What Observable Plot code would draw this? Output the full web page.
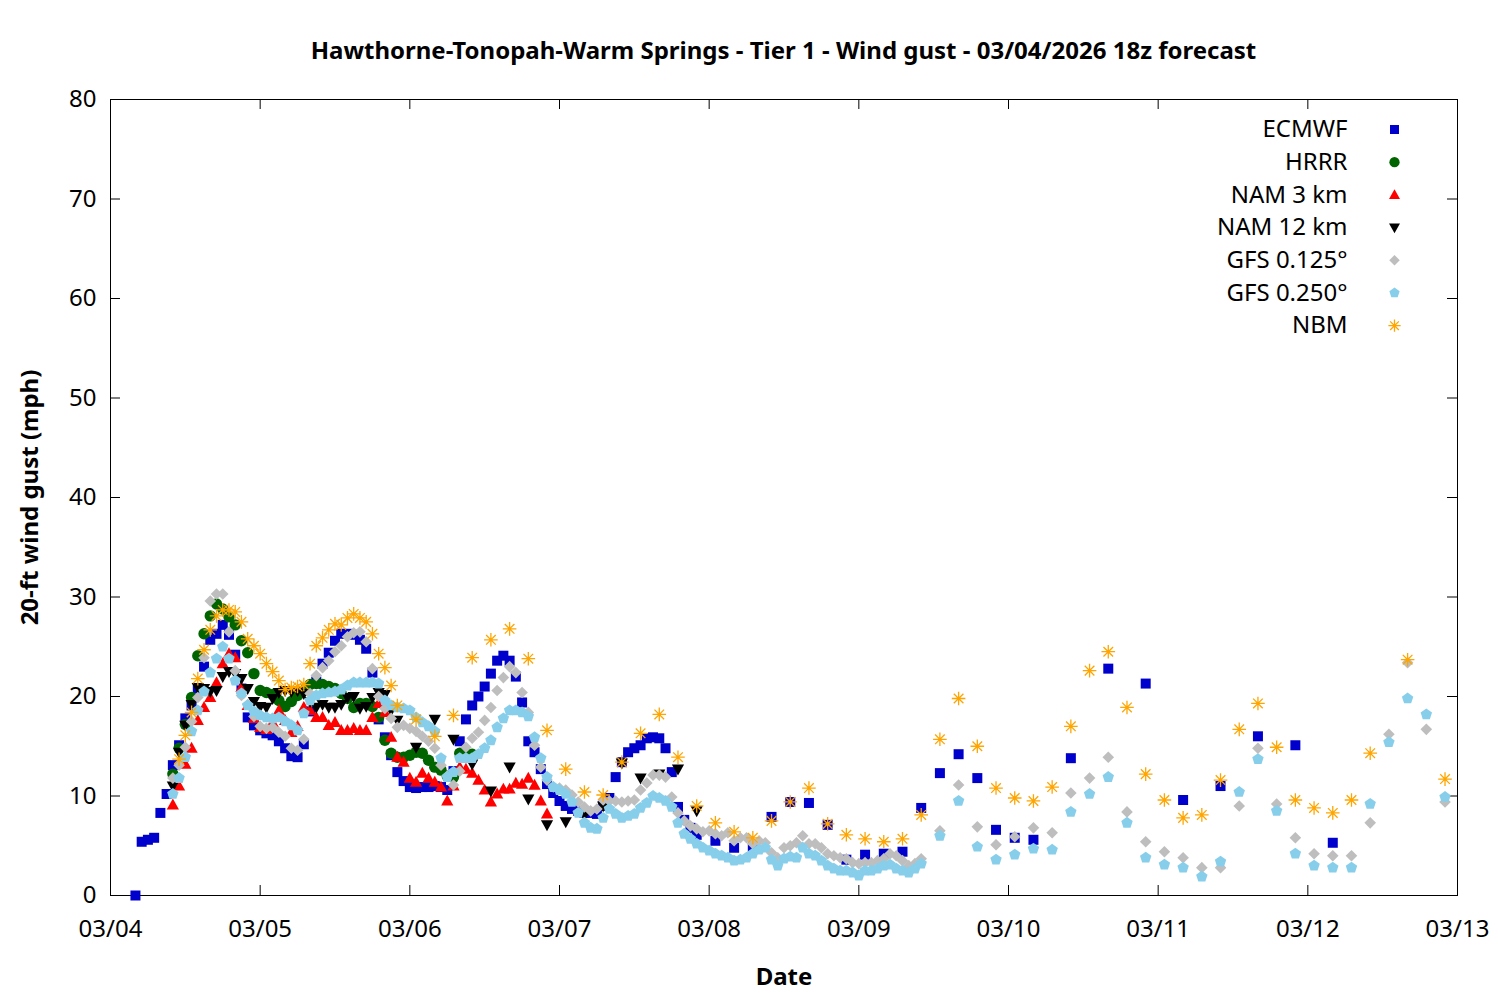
<!DOCTYPE html>
<html><head><meta charset="utf-8">
<script src="https://cdn.jsdelivr.net/npm/d3@7"></script>
<script src="https://cdn.jsdelivr.net/npm/@observablehq/plot@0.6"></script>
<style>
body{margin:0;background:#fff;color:#000;font-family:"Noto Sans",sans-serif;}
#title{width:1500px;height:80px;box-sizing:border-box;padding-left:110px;padding-right:43px;text-align:center;font-weight:bold;font-size:24px;line-height:100px;white-space:nowrap;}
</style></head><body>
<div id="title">Hawthorne-Tonopah-Warm Springs - Tier 1 - Wind gust - 03/04/2026 18z forecast</div>
<div id="chart"></div>
<script>
// forecast hours are counted from 03/04 00 (local time shown on the axis)
const hrs = (a, b, s) => d3.range(a, b + 0.001, s);

const seriesNames = ["ECMWF", "HRRR", "NAM 3 km", "NAM 12 km", "GFS 0.125\u00b0", "GFS 0.250\u00b0", "NBM"];
const seriesColors = ["#0000cc", "#006400", "#ff0000", "#000000", "#bebebe", "#87ceeb", "#ffa500"];

const ecmwfHours = [...hrs(4, 94, 1), ...hrs(97, 148, 3), ...hrs(154, 196, 6)];
const ecmwfGust = [
  0, 5.4, 5.6, 5.8, 8.3, 10.2, 13.1, 15.1, 17.8, 19.1,
  20.8, 23.0, 25.7, 26.3, 27.2, 26.2, 24.2, 20.8, 17.9, 17.1,
  16.6, 16.3, 16.1, 15.5, 14.8, 14.0, 13.9, 15.2, 18.5, 21.5,
  23.3, 24.4, 25.6, 26.3, 26.3, 26.2, 25.7, 24.8, 22.4, 17.7,
  15.9, 14.1, 12.4, 11.5, 10.9, 10.8, 10.9, 10.9, 11.0, 10.9,
  10.6, 12.5, 15.5, 17.7, 19.1, 20.0, 21.0, 22.3, 23.6, 24.1,
  23.6, 22.0, 19.4, 15.5, 14.4, 12.7, 11.2, 10.3, 9.5, 9.0,
  8.7, 8.5, 8.3, 8.3, 8.2, 9.0, 9.8, 11.9, 13.4, 14.4,
  14.8, 15.1, 15.8, 15.9, 15.8, 14.8, 12.4, 8.9, 7.6, 6.8,
  6.1,
  5.5, 4.8, 4.8, 7.9, 9.4, 9.3, 7.1, 3.6, 4.1, 4.2, 4.4, 8.8, 12.3, 14.2, 11.8, 6.6, 5.8, 5.6,
  13.8, 22.8, 21.3, 9.6, 11.0, 16.0, 15.1, 5.3
];

const hrrrHours = hrs(10, 58, 1);
const hrrrGust = [
  12.2, 14.8, 17.2, 19.9, 24.1, 26.3, 28.1, 29.3, 28.8, 28.0,
  27.2, 25.6, 24.4, 22.3, 20.6, 20.4, 20.2, 19.6, 19.0, 19.5,
  20.1, 20.6, 21.2, 21.3, 21.2, 21.0, 20.8, 20.3, 19.8, 18.9,
  19.3, 19.3, 19.0, 17.9, 15.6, 14.3, 13.9, 13.9, 14.1, 14.4,
  14.3, 13.6, 12.9, 12.6, 12.0, 11.9, 14.3, 14.3, 14.2
];

const nam3Hours = hrs(10, 70, 1);
const nam3Gust = [
  9.1, 11.0, 13.2, 14.8, 17.6, 18.9, 19.9, 21.4, 23.3, 24.3,
  23.9, 20.9, 19.1, 17.8, 16.9, 16.7, 17.4, 18.6, 17.6, 16.4,
  17.0, 18.9, 18.6, 17.9, 17.9, 17.1, 17.4, 16.6, 16.6, 16.8,
  16.6, 16.6, 17.9, 19.3, 18.4, 15.9, 13.9, 13.4, 11.8, 11.4,
  12.3, 11.8, 11.4, 10.9, 9.5, 11.0, 12.9, 12.7, 12.3, 11.6,
  10.6, 9.4, 10.2, 10.7, 10.7, 11.3, 11.2, 11.8, 11.1, 9.5,
  8.2
];

const nam12Hours = [...hrs(10, 46, 1), ...hrs(49, 94, 3)];
const nam12Gust = [
  11.0, 14.4, 17.1, 19.2, 20.9, 20.8, 20.5, 20.6, 22.0, 22.5,
  22.3, 21.8, 20.8, 19.5, 19.0, 18.9, 19.8, 20.4, 20.6, 20.5,
  20.6, 20.3, 19.5, 18.9, 19.2, 18.9, 18.9, 19.2, 19.9, 20.0,
  18.8, 19.0, 19.9, 20.4, 20.2, 18.6, 17.6,
  14.9, 17.7, 15.7, 13.2, 10.5, 12.9, 9.7, 7.1, 7.4, 8.1, 9.0, 13.3, 11.8, 12.2, 12.7, 8.5
];

const gfsHours = [...hrs(10, 130, 1), ...hrs(133, 214, 3)];
const gfs125Gust = [
  11.8, 13.1, 14.9, 17.5, 19.9, 23.9, 29.6, 30.3, 30.3, 26.5,
  22.6, 20.1, 19.2, 18.0, 17.0, 16.8, 16.9, 16.4, 16.0, 14.8,
  14.6, 15.7, 20.3, 22.1, 22.9, 23.6, 24.5, 25.1, 26.0, 26.4,
  26.5, 25.5, 22.8, 20.0, 18.8, 17.8, 16.9, 17.1, 16.8, 16.5,
  16.0, 15.5, 14.8, 13.1, 12.0, 11.1, 12.5, 14.9, 15.8, 16.4,
  17.6, 18.9, 20.6, 21.9, 23.0, 22.4, 20.4, 18.4, 15.1, 12.9,
  11.6, 10.9, 10.8, 10.6, 10.1, 9.4, 8.9, 8.5, 8.7, 9.6,
  9.5, 9.5, 9.4, 9.5, 9.6, 10.6, 11.3, 12.1, 12.1, 11.9,
  9.9, 8.3, 7.5, 7.0, 6.7, 6.4, 6.5, 6.2, 6.0, 6.3,
  5.5, 5.8, 5.8, 5.2, 5.5, 5.3, 4.3, 3.8, 4.8, 5.0,
  5.3, 6.0, 5.2, 5.2, 4.8, 4.2, 4.0, 3.8, 3.7, 3.3,
  3.2, 3.3, 3.3, 3.5, 3.7, 4.2, 4.0, 3.5, 3.0, 3.2,
  3.7,
  6.5, 11.1, 6.9, 5.1, 5.9, 6.8, 6.3, 10.3, 11.8, 13.9,
  8.4, 5.4, 4.4, 3.8, 2.8, 2.8, 9.0, 14.8, 9.2, 5.8,
  4.2, 4.0, 4.0, 7.3, 16.2, 23.4, 16.7, 9.4
];
const gfs250Gust = [
  10.2, 11.8, 13.9, 16.5, 18.6, 20.5, 22.4, 23.8, 25.0, 23.8,
  21.6, 20.3, 19.1, 18.5, 18.1, 17.9, 17.8, 17.9, 17.5, 17.1,
  16.6, 18.3, 19.6, 20.1, 20.3, 20.4, 20.5, 20.7, 21.1, 21.4,
  21.4, 21.4, 21.4, 21.3, 19.6, 19.1, 18.9, 18.8, 18.6, 17.9,
  17.4, 17.0, 16.5, 13.8, 11.9, 12.4, 13.8, 13.8, 13.8, 14.2,
  14.8, 15.6, 16.9, 17.8, 18.6, 18.6, 18.4, 18.0, 15.9, 13.8,
  11.9, 10.9, 10.6, 10.2, 9.4, 8.3, 7.3, 6.8, 6.7, 7.8,
  8.7, 8.2, 7.8, 8.0, 8.2, 8.8, 9.3, 10.0, 9.8, 9.5,
  8.9, 7.3, 6.2, 5.7, 5.2, 4.8, 4.5, 4.2, 4.0, 3.8,
  3.5, 3.6, 3.8, 4.2, 4.6, 4.8, 3.6, 3.0, 3.7, 3.9,
  3.8, 4.8, 4.2, 4.0, 3.5, 3.0, 2.7, 2.5, 2.5, 2.3,
  2.0, 2.5, 2.5, 2.7, 3.0, 3.1, 2.7, 2.5, 2.3, 2.7,
  3.2,
  6.0, 9.5, 4.9, 3.6, 4.1, 4.7, 4.6, 8.4, 10.2, 11.9,
  7.3, 3.8, 3.1, 2.8, 1.9, 3.4, 10.4, 13.7, 8.5, 4.2,
  3.0, 2.8, 2.8, 9.2, 15.4, 19.8, 18.2, 9.9
];

const nbmHours = [...hrs(11, 46, 1), ...hrs(49, 202, 3), ...hrs(208, 214, 6)];
const nbmGust = [
  13.7, 16.1, 18.4, 21.8, 24.7, 26.7, 28.1, 28.7, 28.7, 28.5,
  27.5, 25.8, 25.1, 24.3, 23.3, 22.5, 21.6, 20.7, 20.9, 21.0,
  21.2, 23.3, 25.1, 25.9, 26.7, 27.3, 27.2, 27.9, 28.3, 27.9,
  27.5, 26.3, 24.3, 22.9, 21.1, 19.1,
  17.7, 16.0, 18.1, 23.9, 25.7, 26.8, 23.8, 16.6, 12.7, 10.4,
  10.1, 13.4, 16.3, 18.2, 13.9, 9.0, 7.3, 6.4, 5.8, 7.5,
  9.4, 10.8, 7.2, 6.1, 5.7, 5.4, 5.7, 8.1, 15.7, 19.8,
  15.0, 10.8, 9.8, 9.5, 10.9, 17.0, 22.6, 24.5, 18.9, 12.2,
  9.6, 7.8, 8.1, 11.6, 16.7, 19.3, 14.9, 9.6, 8.8, 8.3,
  9.6, 14.3,
  23.7, 11.7
];

const xTicks = d3.utcDay.range(new Date(Date.UTC(2026, 2, 4)), new Date(Date.UTC(2026, 2, 13, 1)));
const yTicks = d3.range(0, 81, 10);

// ---- symbols (gnuplot-like) ----
const rad = (size) => Math.sqrt(size / Math.PI);
const symSquare = {draw(c, s) { const r = rad(s); c.rect(-r, -r, 2 * r, 2 * r); }};
const symCircle = {draw(c, s) { const r = rad(s); c.moveTo(r, 0); c.arc(0, 0, r, 0, 2 * Math.PI); }};
const symTriUp = {draw(c, s) { const r = rad(s); c.moveTo(0, -1.05 * r); c.lineTo(r, 0.75 * r); c.lineTo(-r, 0.75 * r); c.closePath(); }};
const symTriDown = {draw(c, s) { const r = rad(s); c.moveTo(0, 1.05 * r); c.lineTo(r, -0.75 * r); c.lineTo(-r, -0.75 * r); c.closePath(); }};
const symDiamond = {draw(c, s) { const r = rad(s); c.moveTo(0, -r); c.lineTo(r, 0); c.lineTo(0, r); c.lineTo(-r, 0); c.closePath(); }};
const symPentagon = {draw(c, s) { const r = rad(s);
  for (let k = 0; k < 5; k++) { const a = -Math.PI / 2 + k * 2 * Math.PI / 5; const px = r * Math.cos(a), py = r * Math.sin(a); if (k) c.lineTo(px, py); else c.moveTo(px, py); }
  c.closePath(); }};
const symAsterisk = {draw(c, s) { const r = rad(s); const d = r * Math.SQRT1_2;
  c.moveTo(-r, 0); c.lineTo(r, 0); c.moveTo(0, -r); c.lineTo(0, r);
  c.moveTo(-d, -d); c.lineTo(d, d); c.moveTo(-d, d); c.lineTo(d, -d); }};

const T0 = Date.UTC(2026, 2, 4);
const toDate = (h) => new Date(T0 + h * 3600e3);

const series = [
  {hours: ecmwfHours, values: ecmwfGust, symbol: symSquare, r: 5.0, line: false},
  {hours: hrrrHours, values: hrrrGust, symbol: symCircle, r: 5.7, line: false},
  {hours: nam3Hours, values: nam3Gust, symbol: symTriUp, r: 6.1, line: false},
  {hours: nam12Hours, values: nam12Gust, symbol: symTriDown, r: 6.1, line: false},
  {hours: gfsHours, values: gfs125Gust, symbol: symDiamond, r: 5.8, line: false},
  {hours: gfsHours, values: gfs250Gust, symbol: symPentagon, r: 6.0, line: false},
  {hours: nbmHours, values: nbmGust, symbol: symAsterisk, r: 6.8, line: true}
].map((s, i) => ({...s, name: seriesNames[i], color: seriesColors[i]}));

series.forEach(s => { if (s.hours.length !== s.values.length) console.warn(s.name, s.hours.length, s.values.length); });

const W = 1500, H = 920, mT = 19, mB = 105, mL = 110, mR = 43;
const plotW = W - mL - mR, plotH = H - mT - mB;
const FS = 24;

const styleFor = (s) => s.line
  ? {fill: "none", stroke: s.color, strokeWidth: 1.3}
  : {fill: s.color, stroke: "none"};

const marks = [
  Plot.frame({stroke: "black", strokeWidth: 1}),
  // inward ticks on all four sides
  Plot.ruleX(xTicks, {x: d => d, insetTop: plotH - 10, stroke: "black"}),
  Plot.ruleX(xTicks, {x: d => d, insetBottom: plotH - 10, stroke: "black"}),
  Plot.ruleY(yTicks, {y: d => d, insetRight: plotW - 10, stroke: "black"}),
  Plot.ruleY(yTicks, {y: d => d, insetLeft: plotW - 10, stroke: "black"}),
  Plot.axisX({ticks: xTicks, tickFormat: d3.utcFormat("%m/%d"), tickSize: 0, tickPadding: 24, label: null, fontSize: FS}),
  Plot.axisY({ticks: yTicks, tickSize: 0, tickPadding: 14, label: null, fontSize: FS}),
  Plot.text(["20-ft wind gust (mph)"], {frameAnchor: "left", text: d => d, dx: -80, rotate: -90, textAnchor: "middle", lineAnchor: "middle", fontWeight: "bold", fontSize: FS, fill: "black"}),
  Plot.text(["Date"], {frameAnchor: "bottom", text: d => d, dy: 82, textAnchor: "middle", lineAnchor: "middle", fontWeight: "bold", fontSize: FS, fill: "black"})
];

series.forEach(s => {
  const rows = s.hours.map((h, i) => ({t: toDate(h), v: s.values[i]}));
  marks.push(Plot.dot(rows, {x: "t", y: "v", symbol: s.symbol, r: s.r, ...styleFor(s)}));
});

series.forEach((s, i) => {
  const dy = 30 + i * 32.7;
  marks.push(Plot.text([s.name], {frameAnchor: "top-right", text: d => d, dx: -110, dy, textAnchor: "end", lineAnchor: "middle", fontSize: FS, fill: "black"}));
  marks.push(Plot.dot([s.name], {frameAnchor: "top-right", dx: -63, dy, symbol: s.symbol, r: s.r * 0.9, ...styleFor(s)}));
});

const chart = Plot.plot({
  width: W, height: H,
  marginTop: mT, marginBottom: mB, marginLeft: mL, marginRight: mR,
  style: {fontFamily: "Noto Sans", fontSize: FS + "px", color: "black", background: "white", overflow: "visible"},
  x: {type: "utc", domain: [toDate(0), toDate(216)]},
  y: {domain: [0, 80]},
  marks
});
document.getElementById("chart").appendChild(chart);
</script></body></html>
